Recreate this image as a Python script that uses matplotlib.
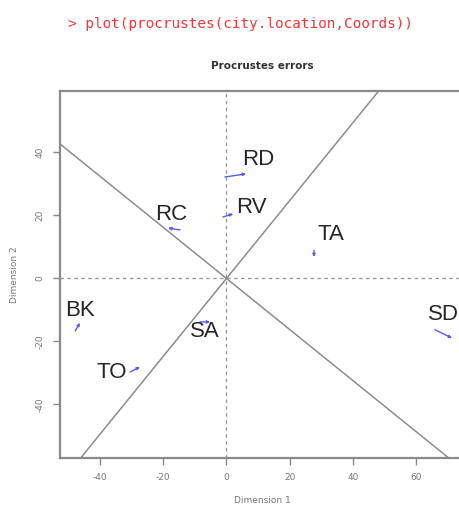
import matplotlib
matplotlib.use("Agg")
import matplotlib.pyplot as plt
import numpy as np

plt.rcParams["axes.unicode_minus"] = False

# city codes, target (observed) and rotated coordinates
cities = ["RD", "RV", "RC", "TA", "BK", "TO", "SA", "SD"]
rot_x = [-0.5, -1.1, -14.7, 27.7, -47.9, -30.5, -8.4, 66.0]
rot_y = [32.2, 19.5, 15.4, 9.0, -16.7, -29.7, -13.8, -16.3]
tgt_x = [6.2, 2.1, -18.5, 27.7, -46.4, -27.4, -5.2, 71.4]
tgt_y = [33.2, 20.5, 16.0, 6.8, -14.1, -28.1, -13.8, -18.9]
label_x = [10.0, 7.8, -17.6, 33.1, -46.4, -36.2, -6.8, 68.6]
label_y = [37.6, 22.4, 20.2, 13.8, -10.3, -30.0, -16.7, -11.6]

# rotation axes (slopes through the origin)
axis_slopes = [1.235, -0.81]

xticks = [-40, -20, 0, 20, 40, 60]
yticks = [-40, -20, 0, 20, 40]

fig = plt.figure(figsize=(4.6, 5.08), dpi=100)
fig.patch.set_facecolor("white")

ax = fig.add_axes([60 / 460, 1 - 458 / 508, (464 - 60) / 460, (458 - 91) / 508])
ax.set_xlim(-52.7, 75.2)
ax.set_ylim(-57.0, 59.5)

frame_col = "#8a8a8a"
for sp in ax.spines.values():
    sp.set_color(frame_col)
    sp.set_linewidth(1.6)

ax.set_xticks(xticks)
ax.set_yticks(yticks)
ax.tick_params(direction="out", length=5, width=1.0, color=frame_col,
               labelsize=6.5, labelcolor="#777777", pad=6)
for lab in ax.get_yticklabels():
    lab.set_rotation(90)
    lab.set_va("center")

# reference axes through the origin
ax.axhline(0, color="#999999", lw=1.0, ls=(0, (2.5, 2.5)))
ax.axvline(0, color="#999999", lw=1.0, ls=(0, (2.5, 2.5)))
for s in axis_slopes:
    ax.axline((0, 0), slope=s, color="#8c8c8c", lw=1.1)

# error arrows
for x0, y0, x1, y1 in zip(rot_x, rot_y, tgt_x, tgt_y):
    ax.annotate("", xy=(x1, y1), xytext=(x0, y0),
                arrowprops=dict(arrowstyle="-|>", color="#5a5af0", lw=1.0,
                                mutation_scale=4, shrinkA=0, shrinkB=0))

for name, lx, ly in zip(cities, label_x, label_y):
    ax.text(lx, ly, name, fontsize=16, color="#262626", ha="center",
            va="center", family="Liberation Sans")

ax.set_xlabel("Dimension 1", fontsize=6.5, color="#777777", labelpad=10)
ax.set_ylabel("Dimension 2", fontsize=6.5, color="#777777", labelpad=12)

fig.text(262 / 460, 1 - 66 / 508, "Procrustes errors", fontsize=7.5,
         fontweight="bold", color="#333333", ha="center", va="center")
fig.text(68 / 460, 1 - 24 / 508, "> plot(procrustes(city.location,Coords))",
         fontsize=10.4, color="#f03838", ha="left", va="center",
         family="DejaVu Sans Mono")

fig.savefig("out.png", dpi=100, facecolor="white")
